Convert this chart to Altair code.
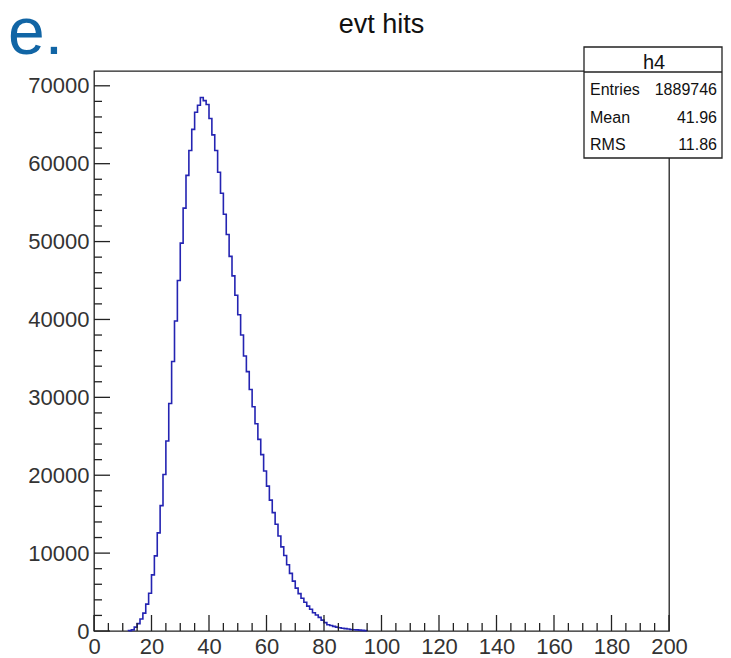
import altair as alt
import pandas as pd

# ---------------- data ----------------
bin_start = 12
bin_width = 1
counts = [50, 150, 500, 950, 1550, 2300, 3450, 4850, 7200, 9650, 12600, 16100,
          20100, 24400, 29200, 34600,
          39800, 45000, 49800, 54300, 58500, 61700, 64400, 66600, 67500, 68500,
          68100, 67600, 65800, 63700, 61700, 58900, 56200, 53500, 50900, 48100,
          45600, 43100, 40600, 38000, 35300,
          33300, 31000, 28800, 26600, 24600, 22650, 20550, 18600, 16800, 15200,
          13700, 12200, 10800, 9700, 8500,
          7400, 6400, 5500, 4800, 4200, 3700, 3200, 2800, 2350, 2050, 1750, 1400,
          1080, 800, 700, 600, 500, 420, 350, 300, 250, 200, 170, 140, 110, 80, 50]

x_range = [0, 200]
y_range = [0, 71900]
x_major = [0, 20, 40, 60, 80, 100, 120, 140, 160, 180, 200]
x_minor = [v for v in range(0, 201, 5) if v % 20]
y_major = [0, 10000, 20000, 30000, 40000, 50000, 60000, 70000]
y_minor = [v for v in range(0, 71900, 2000) if v % 10000]

title_text = "evt hits"
slide_text = "se."
stats_name = "h4"
stats_labels = ["Entries", "Mean", "RMS"]
stats_values = ["1889746", "41.96", "11.86"]

# ---------------- build step outline ----------------
rows = [{"i": 0, "x": bin_start, "y": 0}]
for k, c in enumerate(counts):
    lo = bin_start + k * bin_width
    rows.append({"i": len(rows), "x": lo, "y": c})
    rows.append({"i": len(rows), "x": lo + bin_width, "y": c})
rows.append({"i": len(rows), "x": bin_start + len(counts) * bin_width, "y": 0})
hist_df = pd.DataFrame(rows)

W, H = 575, 560
FONT = "Liberation Sans"
LINE = "#222222"
HCOL = "#2424b2"

xs = alt.Scale(domain=x_range, nice=False, zero=False)
ys = alt.Scale(domain=y_range, nice=False)

x_axis = alt.Axis(values=x_major, format="d", title=None, ticks=False, tickSize=0,
                  domain=False, grid=False, labelFont=FONT, labelFontSize=22,
                  labelColor="#333333", labelPadding=5, labelFlush=False,
                  labelOverlap=False)
y_axis = alt.Axis(values=y_major, format="d", title=None, ticks=False, tickSize=0,
                  domain=False, grid=False, labelFont=FONT, labelFontSize=22,
                  labelColor="#333333", labelPadding=5, labelFlush=False,
                  labelOverlap=False)

hist = alt.Chart(hist_df).mark_line(color=HCOL, strokeWidth=1.6).encode(
    x=alt.X("x:Q", scale=xs, axis=x_axis),
    y=alt.Y("y:Q", scale=ys, axis=y_axis),
    order="i:Q",
)

def yticks(vals, length):
    return alt.Chart(pd.DataFrame({"y": vals})).mark_rule(color=LINE, strokeWidth=1.3).encode(
        y=alt.Y("y:Q", scale=ys, axis=y_axis),
        x=alt.value(0), x2=alt.value(length))

def xticks(vals, length):
    return alt.Chart(pd.DataFrame({"x": vals})).mark_rule(color=LINE, strokeWidth=1.3).encode(
        x=alt.X("x:Q", scale=xs, axis=x_axis),
        y=alt.value(H), y2=alt.value(H - length))

one = pd.DataFrame({"a": [0]})

BOX_L, BOX_R = 490, 628
box = alt.Chart(one).mark_rect(fill="white", stroke=LINE, strokeWidth=1.3).encode(
    x=alt.value(BOX_L), x2=alt.value(BOX_R), y=alt.value(-24), y2=alt.value(87))
sep = alt.Chart(one).mark_rule(color=LINE, strokeWidth=1.3).encode(
    x=alt.value(BOX_L), x2=alt.value(BOX_R), y=alt.value(1))

texts = [
    alt.Chart(pd.DataFrame({"t": [title_text]})).mark_text(
        font=FONT, fontSize=27, color="#111111", align="center", baseline="alphabetic"
    ).encode(x=alt.value(W / 2), y=alt.value(-38), text="t:N"),
    alt.Chart(pd.DataFrame({"t": [slide_text]})).mark_text(
        font=FONT, fontSize=66, color="#1165a5", align="left", baseline="alphabetic"
    ).encode(x=alt.value(-119), y=alt.value(-17), text="t:N"),
    alt.Chart(pd.DataFrame({"t": [stats_name]})).mark_text(
        font=FONT, fontSize=20, color="#111111", align="center", baseline="alphabetic"
    ).encode(x=alt.value((BOX_L + BOX_R) / 2 + 1), y=alt.value(-2), text="t:N"),
]
for r, (lab, val) in enumerate(zip(stats_labels, stats_values)):
    yy = 24 + 27.5 * r
    texts.append(alt.Chart(pd.DataFrame({"t": [lab]})).mark_text(
        font=FONT, fontSize=16, color="#111111", align="left", baseline="alphabetic"
    ).encode(x=alt.value(BOX_L + 6), y=alt.value(yy), text="t:N"))
    texts.append(alt.Chart(pd.DataFrame({"t": [val]})).mark_text(
        font=FONT, fontSize=16, color="#111111", align="right", baseline="alphabetic"
    ).encode(x=alt.value(BOX_R - 5), y=alt.value(yy), text="t:N"))

chart = alt.layer(
    hist, yticks(y_major, 16), yticks(y_minor, 8), xticks(x_major, 16), xticks(x_minor, 8),
    box, sep, *texts
).properties(
    width=W, height=H,
    padding={"left": 86, "top": 63, "right": 54, "bottom": 27},
    autosize=alt.AutoSizeParams(type="none"),
    background="white",
).configure_view(stroke=LINE, strokeWidth=1.3)

chart.save("out.html", embed_options={"renderer": "svg", "actions": False})
